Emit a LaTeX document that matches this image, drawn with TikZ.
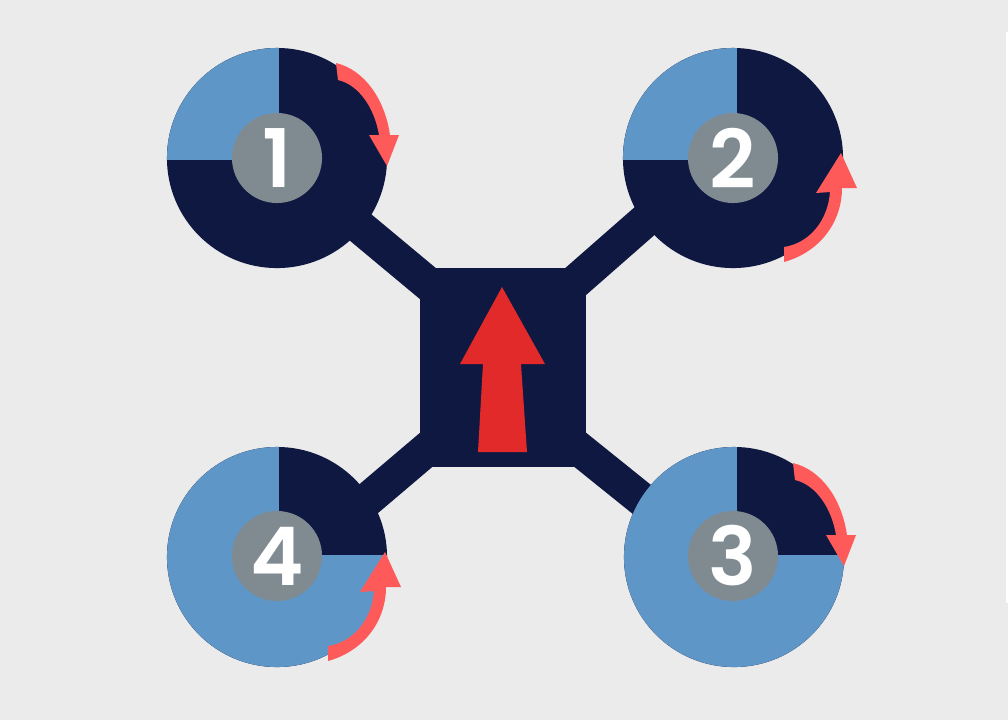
\documentclass[tikz,border=0pt]{standalone}
\usepackage{fontspec}
\newfontfamily\digitfont{Poppins SemiBold}
\definecolor{navy}{HTML}{0F1840}
\definecolor{bladeblue}{HTML}{5F96C8}
\definecolor{hubgrey}{HTML}{7F8A91}
\definecolor{coral}{HTML}{FF5A5A}
\definecolor{headred}{HTML}{E22A2A}
\definecolor{paper}{HTML}{EBEBEB}
\tikzset{
	rotor/.style = {circle, fill = navy, inner sep = 0pt, minimum size = 2.2cm},
	hub/.style = {circle, fill = hubgrey, inner sep = 0pt, minimum size = 0.9cm, text = white, font = \fontsize{23}{23}\selectfont\digitfont},
	frame/.style = {fill = navy, inner sep = 0pt, minimum width = 1.66cm, minimum height = 1.99cm},
	arm/.style = {navy, line width = 0.34cm},
	spin/.style = {fill = coral}
}
\begin{document}
\begin{tikzpicture}[x = 0.01cm, y = -0.01cm]
	\fill[paper] (0,0) rectangle (1008,720);
	\fill[white] (1006,32) rectangle (1008,603);
	\useasboundingbox (0,0) rectangle (1008,720);
	% arms
	\coordinate (mount1) at (450,302);
	\coordinate (mount2) at (550,304);
	\coordinate (mount3) at (550,425.5);
	\coordinate (mount4) at (450,429.6);
	\coordinate (tip1) at (300,177);
	\coordinate (tip2) at (680,190);
	\coordinate (tip3) at (660,514);
	\coordinate (tip4) at (340,523);
	\foreach \n in {1,2,3,4}
		\draw[arm] (tip\n) -- (mount\n);
	\node[frame] (body) at (503,367.5) {};
	% rotors
	\node[rotor] (rotor1) at (277,158) {};
	\node[rotor] (rotor2) at (733,158) {};
	\node[rotor] (rotor3) at (734,557) {};
	\node[rotor] (rotor4) at (277,557) {};
	\foreach \n/\ax/\ay in {1/279/160, 2/737/160} {
		\begin{scope}
			\clip (rotor\n.center) circle (110);
			\fill[bladeblue] (\ax-120,\ay-120) rectangle (\ax,\ay);
		\end{scope}
	}
	\foreach \n/\ax/\ay in {3/737/555, 4/279/555} {
		\begin{scope}
			\clip (rotor\n.center) circle (110);
			\fill[bladeblue] (\ax-120,\ay-120) rectangle (\ax,\ay+120);
			\fill[bladeblue] (\ax-1,\ay) rectangle (\ax+120,\ay+120);
		\end{scope}
	}
	\node[hub] (hub1) at (277,158) {1};
	\node[hub] (hub2) at (733,158) {2};
	\node[hub] (hub3) at (733,556) {3};
	\node[hub] (hub4) at (277,556) {4};
	% spin arrows
	\foreach \dx/\dy in {0/0, 457/400}
		\fill[spin, shift = {(\dx,\dy)}] (336,63) .. controls (365,70) and (385,100) .. (390,135) -- (399,135) -- (387,166) -- (369,135) -- (379,135) .. controls (375,110) and (360,85) .. (338,80) -- cycle;
	\foreach \dx/\dy in {0/0, -456/399}
		\fill[spin, shift = {(\dx,\dy)}] (784,247) .. controls (810,243) and (828,220) .. (830,192) -- (816,193) -- (841,153) -- (857,188) -- (842,188) .. controls (842,222) and (820,252) .. (784,262) -- cycle;
	% heading
	\fill[headred] (502,287) -- (545,364) -- (521,364) -- (527,452) -- (478,452) -- (483,364) -- (460,364) -- cycle;
\end{tikzpicture}
\end{document}
